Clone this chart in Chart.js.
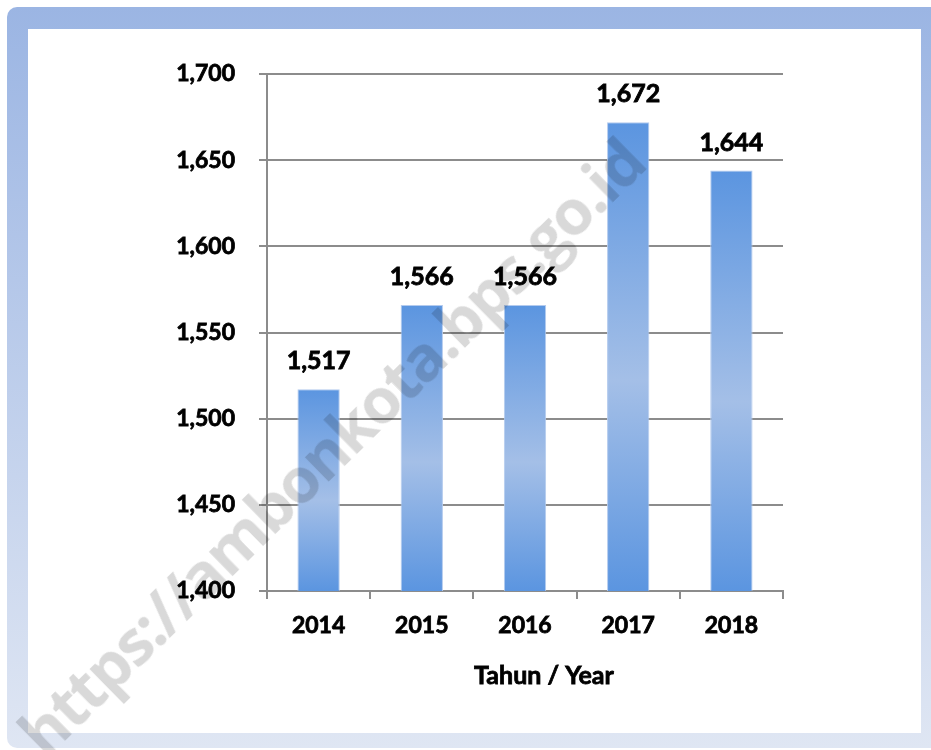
<!DOCTYPE html>
<html>
<head>
<meta charset="utf-8">
<script src="https://cdn.jsdelivr.net/npm/chart.js@4.4.1/dist/chart.umd.min.js"></script>
<style>
    html, body { margin: 0; padding: 0; background: #fff; }
    #wrap { position: relative; width: 931px; height: 750px; overflow: hidden; }
    #frame {
        position: absolute; left: 7px; top: 7px; width: 950px; height: 741px;
        border-radius: 10px;
        background: linear-gradient(#9bb5e3, #dfe6f3);
    }
    #inner { position: absolute; left: 28px; top: 29px; width: 893px; height: 704px; background: #fff; }
    #myChart { position: absolute; left: 0; top: 0; }
    #mark {
        position: absolute; left: 330px; top: 446px;
        transform: translate(-50%, -50%) rotate(-44.5deg);
        font: bold 63px "Open Sans", sans-serif; color: rgba(0, 0, 0, 0.15);
        letter-spacing: -2px;
        white-space: nowrap; pointer-events: none;
    }
</style>
</head>
<body>
<div id="wrap">
    <div id="frame"></div>
    <div id="inner"></div>
    <canvas id="myChart" width="931" height="750"></canvas>
    <div id="mark">https://ambonkota.bps.go.id</div>
</div>
<script>
    const years = ['2014', '2015', '2016', '2017', '2018'];
    const values = [1517, 1566, 1566, 1672, 1644];
    const yMin = 1400;
    const yMax = 1700;
    const yStep = 50;
    const xTitle = 'Tahun / Year';

    const fmt = v => Number(v).toLocaleString('en-US');
    const tickFont = { family: 'Lato', size: 23, weight: 'bold' };

    // value labels above bars + axis title
    const barLabels = {
        id: 'barLabels',
        afterDatasetsDraw(chart) {
            const c = chart.ctx;
            c.save();
            c.font = 'bold 25px Lato';
            c.fillStyle = '#000';
            c.strokeStyle = '#000';
            c.lineWidth = 0.8;
            c.textAlign = 'center';
            c.textBaseline = 'middle';
            chart.getDatasetMeta(0).data.forEach((bar, i) => {
                c.fillText(fmt(values[i]), bar.x, bar.y - 28);
                c.strokeText(fmt(values[i]), bar.x, bar.y - 28);
            });
            const area = chart.chartArea;
            const tx = (area.left + area.right) / 2 + 19;
            c.fillText(xTitle, tx, area.bottom + 85);
            c.strokeText(xTitle, tx, area.bottom + 85);
            c.restore();
        }
    };

    const data = {
        labels: years,
        datasets: [{
            data: values,
            backgroundColor: function (ctx) {
                const chart = ctx.chart;
                if (!chart.chartArea || ctx.type !== 'data') return '#5c96e0';
                const y = chart.scales.y;
                const top = y.getPixelForValue(ctx.raw);
                const bottom = y.getPixelForValue(yMin);
                const g = chart.ctx.createLinearGradient(0, top, 0, bottom);
                g.addColorStop(0, '#5b95e0');
                g.addColorStop(0.55, '#a4bfe7');
                g.addColorStop(1, '#5b95e0');
                return g;
            },
            borderColor: '#b4cbee',
            borderWidth: 1,
            barPercentage: 0.41,
            categoryPercentage: 1
        }]
    };

    const config = {
        type: 'bar',
        data: data,
        options: {
            responsive: false,
            animation: false,
            layout: { padding: { left: 0, top: 74, right: 148, bottom: 0 } },
            plugins: {
                legend: { display: false },
                tooltip: { enabled: false }
            },
            scales: {
                x: {
                    afterFit: s => { s.height = 159; },
                    grid: { drawOnChartArea: false, drawTicks: true, tickLength: 8, color: '#8c8c8c', lineWidth: 2 },
                    border: { color: '#8c8c8c', width: 2 },
                    ticks: { color: '#000', font: tickFont, padding: 13, textStrokeColor: '#000', textStrokeWidth: 0.8 }
                },
                y: {
                    min: yMin,
                    max: yMax,
                    afterFit: s => { s.width = 267; },
                    grid: { color: '#8c8c8c', lineWidth: 2, tickLength: 8 },
                    border: { color: '#8c8c8c', width: 2 },
                    ticks: {
                        stepSize: yStep, color: '#000', font: tickFont, padding: 24,
                        textStrokeColor: '#000', textStrokeWidth: 0.8,
                        callback: v => fmt(v)
                    }
                }
            }
        },
        plugins: [barLabels]
    };

    var myChart = new Chart(document.getElementById('myChart'), config);
</script>
</body>
</html>
